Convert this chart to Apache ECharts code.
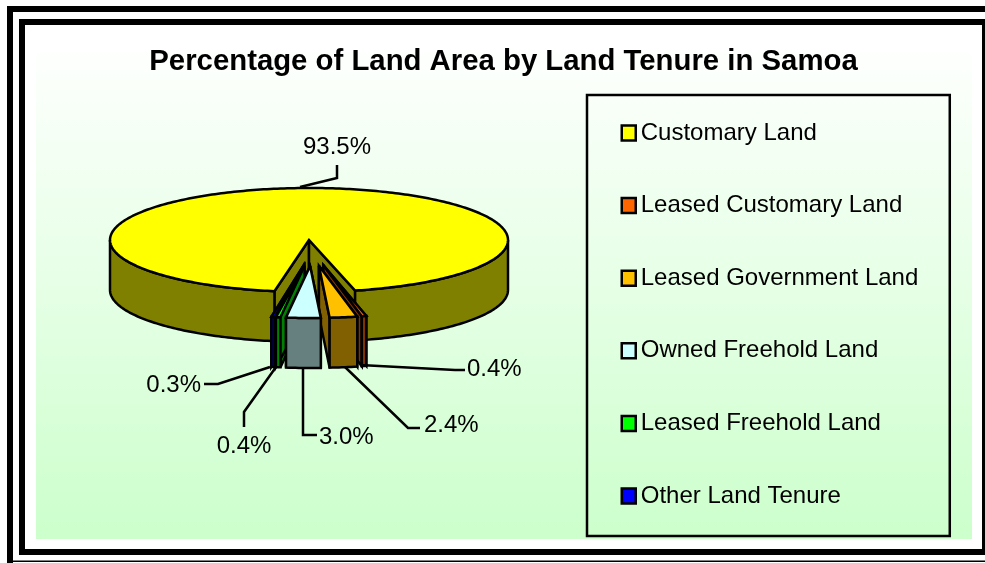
<!DOCTYPE html>
<html><head><meta charset="utf-8">
<style>html,body{margin:0;padding:0;background:#fff}#c{width:985px;height:563px}</style>
<script src="https://cdn.jsdelivr.net/npm/echarts@6/dist/echarts.min.js"></script>
</head><body><div id="c"></div>
<script>
const titleText = 'Percentage of Land Area by Land Tenure in Samoa';
const categories = ['Customary Land','Leased Customary Land','Leased Government Land','Owned Freehold Land','Leased Freehold Land','Other Land Tenure'];
const shares = [93.5,0.4,2.4,3.0,0.4,0.3];
const valueLabels = ['93.5%','0.4%','2.4%','3.0%','0.4%','0.3%'];
const topColors = ['#FFFF00','#FF6600','#FFC000','#CCFFFF','#00FF00','#0000FF'];
const sideColors = ['#808000','#803300','#806000','#668080','#008000','#000080'];

// layout only
const firstAngle = 190, cx = 309, cy = 240, rx = 199, ry = 52, depth = 50;
const explode = [0,1,1,1,1,1], explodeX = 52, explodeY = 26, explodeShift = 3, explodedRx = 185;
const drawZ = [1,2,3,6,5,4];
const leaderAnchor = [[300,187],[360,365],[345,367],[303,367],[276,367],[270,367]];
const leaderElbows = [[[337,178],[337,165]],[[455,370],[465,370]],[[408,428],[420,428]],[[303,435],[317,435]],[[244,412],[244,427]],[[218,384],[204,384]]];
const labelPos = [[337,147,'center'],[467,369,'left'],[424,425,'left'],[319,437,'left'],[244,446,'center'],[201,385,'right']];
const fontFamily = '"Liberation Sans",Arial,sans-serif';
const strokeW = 2.5;

const total = shares.reduce((a,b)=>a+b,0);
const rad = d => d*Math.PI/180;
function spanOf(i){
  let a = firstAngle;
  for(let k=0;k<i;k++) a += shares[k]/total*360;
  return [a, a + shares[i]/total*360];
}
function slicePts(i){
  const [a0,a1] = spanOf(i), m = rad((a0+a1)/2);
  const ox = cx + (explode[i] ? explodeShift + explodeX*Math.sin(m) : 0);
  const oy = cy + (explode[i] ? -explodeY*Math.cos(m) : 0);
  const r = explode[i] ? explodedRx : rx;
  const pt = d => [ox + r*Math.sin(rad(d)), oy - ry*Math.cos(rad(d))];
  return {a0,a1,ox,oy,pt};
}
function poly(points,fill){
  return {type:'polygon',shape:{points},style:{fill,stroke:'#000',lineWidth:strokeW,lineJoin:'miter',miterLimit:4}};
}
function arc(pt,from,to){
  const out=[], n=Math.max(2,Math.ceil(Math.abs(to-from)));
  for(let k=0;k<=n;k++) out.push(pt(from+(to-from)*k/n));
  return out;
}
function makeRender(i){
  return function(){
    const {a0,a1,ox,oy,pt} = slicePts(i);
    const kids=[];
    const d = p=>[p[0],p[1]+depth];
    const wall = p => poly([[ox,oy],p,d(p),[ox,oy+depth]],sideColors[i]);
    kids.push(wall(pt(a0)),wall(pt(a1)));
    const ranges = [[90,270],[450,630]];
    ranges.forEach(r=>{
      const s=Math.max(a0,r[0]), e=Math.min(a1,r[1]);
      if(e>s){
        const top=arc(pt,s,e);
        kids.push(poly(top.concat(top.slice().reverse().map(d)),sideColors[i]));
      }
    });
    kids.push(poly([[ox,oy]].concat(arc(pt,a0,a1)),topColors[i]));
    const line=[leaderAnchor[i]].concat(leaderElbows[i]);
    kids.push({type:'polyline',shape:{points:line},style:{fill:null,stroke:'#000',lineWidth:strokeW},z2:50});
    const lp=labelPos[i];
    kids.push({type:'text',x:lp[0],y:lp[1],style:{text:valueLabels[i],font:'24px '+fontFamily,fill:'#000',align:lp[2],verticalAlign:'middle'},z2:50});
    return {type:'group',children:kids};
  };
}
const series = categories.map((name,i)=>({
  name, type:'custom', coordinateSystem:'none', z:2+drawZ[i], silent:true, animation:false,
  itemStyle:{color:topColors[i]},
  renderItem:makeRender(i),
  data:[[shares[i]]]
}));
const frameBars = [[7,6,6,557],[7,6,978,6],[13,560.5,972,1.5],[19,19,6,536],[19,19,966,6],[19,549,966,6],[982,19,3,536]];
const chart = echarts.init(document.getElementById('c'),null,{renderer:'canvas'});
chart.setOption({
  animation:false,
  backgroundColor:'#fff',
  title:{text:titleText,left:498.5,top:42,textAlign:'center',textStyle:{fontFamily,fontWeight:'bold',fontSize:29.33,color:'#000'}},
  legend:{
    orient:'vertical',left:587,top:95,
    padding:[26,31.5,28,33.5],itemGap:48.6,itemWidth:14,itemHeight:15,
    borderColor:'#000',borderWidth:2.5,backgroundColor:'transparent',
    icon:'rect',itemStyle:{borderColor:'#000',borderWidth:2.5},
    selectedMode:false,
    textStyle:{fontFamily,fontSize:24,color:'#000'},
    data:categories
  },
  graphic:frameBars.map(b=>({type:'rect',z:-9,shape:{x:b[0],y:b[1],width:b[2],height:b[3]},style:{fill:'#000'}})).concat([
    {type:'rect',z:-8,shape:{x:36,y:40,width:936,height:499},style:{fill:new echarts.graphic.LinearGradient(0,0,0,1,[{offset:0,color:'#FFFFFF'},{offset:1,color:'#CCFFCC'}])}}
  ]),
  series
});
</script></body></html>
